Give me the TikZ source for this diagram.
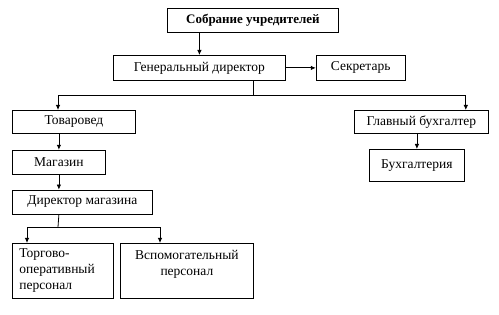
\documentclass[tikz,border=0pt]{standalone}
\usepackage{fontspec}
\setmainfont{Liberation Serif}
\usepackage{tikz}
\usetikzlibrary{arrows.meta,positioning,shadows}

\begin{document}
\begin{tikzpicture}[>={Latex[length=5pt,width=4.5pt]},x=1pt,y=1pt,font=\fontsize{13.5}{16}\selectfont]
\tikzstyle{box}=[draw,line width=0.8pt,fill=white,inner sep=2pt,anchor=north west,drop shadow={shadow xshift=1pt,shadow yshift=-1pt,fill=black!45,opacity=1}]
\tikzstyle{link}=[->,line width=0.8pt]
\useasboundingbox (0,0) rectangle (499,315);
\node[box,minimum width=171pt,minimum height=24pt,font=\fontsize{13}{16}\selectfont\bfseries] (sob) at (167,307) {Собрание учредителей};
\node[box,minimum width=172pt,minimum height=25pt] (gen) at (113,260) {Генеральный директор};
\node[box,minimum width=89pt,minimum height=25pt,right=30pt of gen.north east,anchor=north west] (sek) {Секретарь};
\node[box,minimum width=123pt,minimum height=23pt] (tov) at (12,205) {Товаровед};
\node[box,minimum width=134pt,minimum height=23pt] (glav) at (354,205) {Главный бухгалтер};
\node[box,minimum width=93pt,minimum height=24pt,below=16pt of tov.south west,anchor=north west] (mag) {Магазин};
\node[box,minimum width=140pt,minimum height=24pt,below=15pt of mag.south west,anchor=north west] (dir) {Директор магазина};
\node[box,minimum width=95pt,minimum height=32pt] (buh) at (369,166) {Бухгалтерия};
\node[box,minimum height=55pt,inner xsep=7pt,text width=87pt,align=left] (torg) at (12,72) {Торгово-\\оперативный\\персонал};
\node[box,minimum height=55pt,inner xsep=7pt,text width=119pt,align=center] (vsp) at (120,72) {Вспомогательный\\персонал\\~};
\coordinate (split) at (253,220);
\coordinate (split2) at (58,88);
\draw[link] (sob.south -| gen.north) -- (gen.north);
\draw[link] (gen.east) -- (sek.west);
\draw[line width=0.8pt] (split |- gen.south) -- (split);
\draw[link] (split) -| ([xshift=46pt]tov.north west);
\draw[link] (split) -| ([xshift=-23pt]glav.north east);
\draw[link] (tov.south -| mag.north) -- (mag.north);
\draw[link] (mag.south) -- (mag.south |- dir.north);
\draw[line width=0.8pt] (mag.south |- dir.south) -- (split2);
\draw[link] (split2) -| ([xshift=15pt]torg.north west);
\draw[link] (split2) -| ([xshift=40pt]vsp.north west);
\draw[link] (glav.south -| buh.north) -- (buh.north);
\end{tikzpicture}
\end{document}
